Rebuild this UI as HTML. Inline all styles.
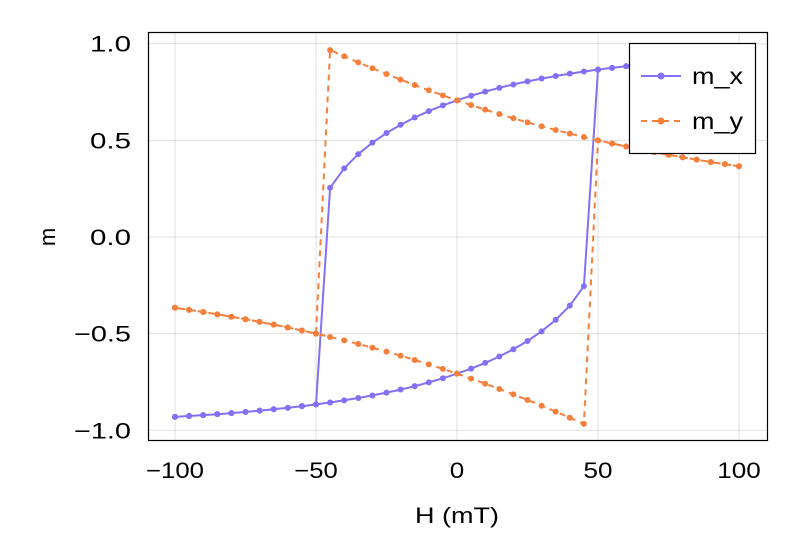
<!DOCTYPE html>
<html><head><meta charset="utf-8"><style>
html,body{margin:0;padding:0;background:#fff}
svg{display:block;font-family:"Liberation Sans",sans-serif}
</style></head><body>
<svg id="s" width="800" height="560" xmlns="http://www.w3.org/2000/svg">
<rect width="800" height="560" fill="#fff"/>
<g id="grid" stroke="#000" stroke-opacity="0.12" stroke-width="1"></g>
<g id="data"></g>
<rect x="148.5" y="32.5" width="619" height="408" fill="none" stroke="#000" stroke-width="1.2"/>
<g id="ticks" font-size="22" fill="#000"></g>
<text x="457" y="523" font-size="22" text-anchor="middle" textLength="84" lengthAdjust="spacingAndGlyphs">H (mT)</text>
<text x="0" y="0" font-size="22" text-anchor="middle" transform="translate(55,237) rotate(-90)">m</text>
<rect x="629.5" y="43.5" width="126" height="110" fill="#fff" stroke="#000" stroke-width="1.2"/>
<line x1="641" y1="76" x2="681" y2="76" stroke="#8370f5" stroke-width="2"/>
<circle cx="661" cy="76" r="3.5" fill="#8370f5"/>
<text x="692" y="84" font-size="23" textLength="51" lengthAdjust="spacingAndGlyphs">m_x</text>
<line x1="641" y1="121" x2="681" y2="121" stroke="#f5803e" stroke-width="2" stroke-dasharray="6 5"/>
<circle cx="661" cy="121" r="3.5" fill="#f5803e"/>
<text x="692" y="129" font-size="23" textLength="51" lengthAdjust="spacingAndGlyphs">m_y</text>
</svg>
<script>
var NS="http://www.w3.org/2000/svg";
function X(h){return 457+h*2.82;}
function Y(m){return 237-m*193.3;}
function el(t,a,p){var e=document.createElementNS(NS,t);for(var k in a)e.setAttribute(k,a[k]);p.appendChild(e);return e;}
var grid=document.getElementById('grid'),ticks=document.getElementById('ticks');
[-100,-50,0,50,100].forEach(function(h){el('line',{x1:X(h),x2:X(h),y1:32,y2:441},grid);
 var s=(h<0?'\u2212'+(-h):''+h);
 var t=el('text',{x:X(h),y:478,'text-anchor':'middle',textLength:s.length*14.5,lengthAdjust:'spacingAndGlyphs'},ticks);t.textContent=s;});
[-1,-0.5,0,0.5,1].forEach(function(m){el('line',{y1:Y(m),y2:Y(m),x1:148,x2:768},grid);
 var s=(m<0?'\u2212':'')+Math.abs(m).toFixed(1);
 var t=el('text',{x:131,y:Y(m)+8,'text-anchor':'end',textLength:(m<0?57:41),lengthAdjust:'spacingAndGlyphs'},ticks);t.textContent=s;});
function up(H){var h=H/50;var s=(-h+Math.sqrt(h*h+8))/4;if(s>1)s=1;return [Math.sqrt(Math.max(0,1-s*s)),s];}
function lo(H){var u=up(-H);return [-u[0],-u[1]];}
var pts=[];
for(var H=100;H>=-100;H-=5)pts.push([H,H>=-45?up(H):lo(H)]);
for(var H=-100;H<=100;H+=5)pts.push([H,H<=45?lo(H):up(H)]);
var d=document.getElementById('data');
var cols=['#8370f5','#f5803e'];
[0,1].forEach(function(i){
 var p=pts.map(function(q,j){return (j?'L':'M')+X(q[0]).toFixed(1)+' '+Y(q[1][i]).toFixed(1);}).join(' ');
 var a={d:p,fill:'none',stroke:cols[i],'stroke-width':2};if(i==1)a['stroke-dasharray']='6 5';
 el('path',a,d);
 pts.forEach(function(q){el('circle',{cx:X(q[0]),cy:Y(q[1][i]),r:3,fill:cols[i]},d);});
});
</script>
</body></html>
